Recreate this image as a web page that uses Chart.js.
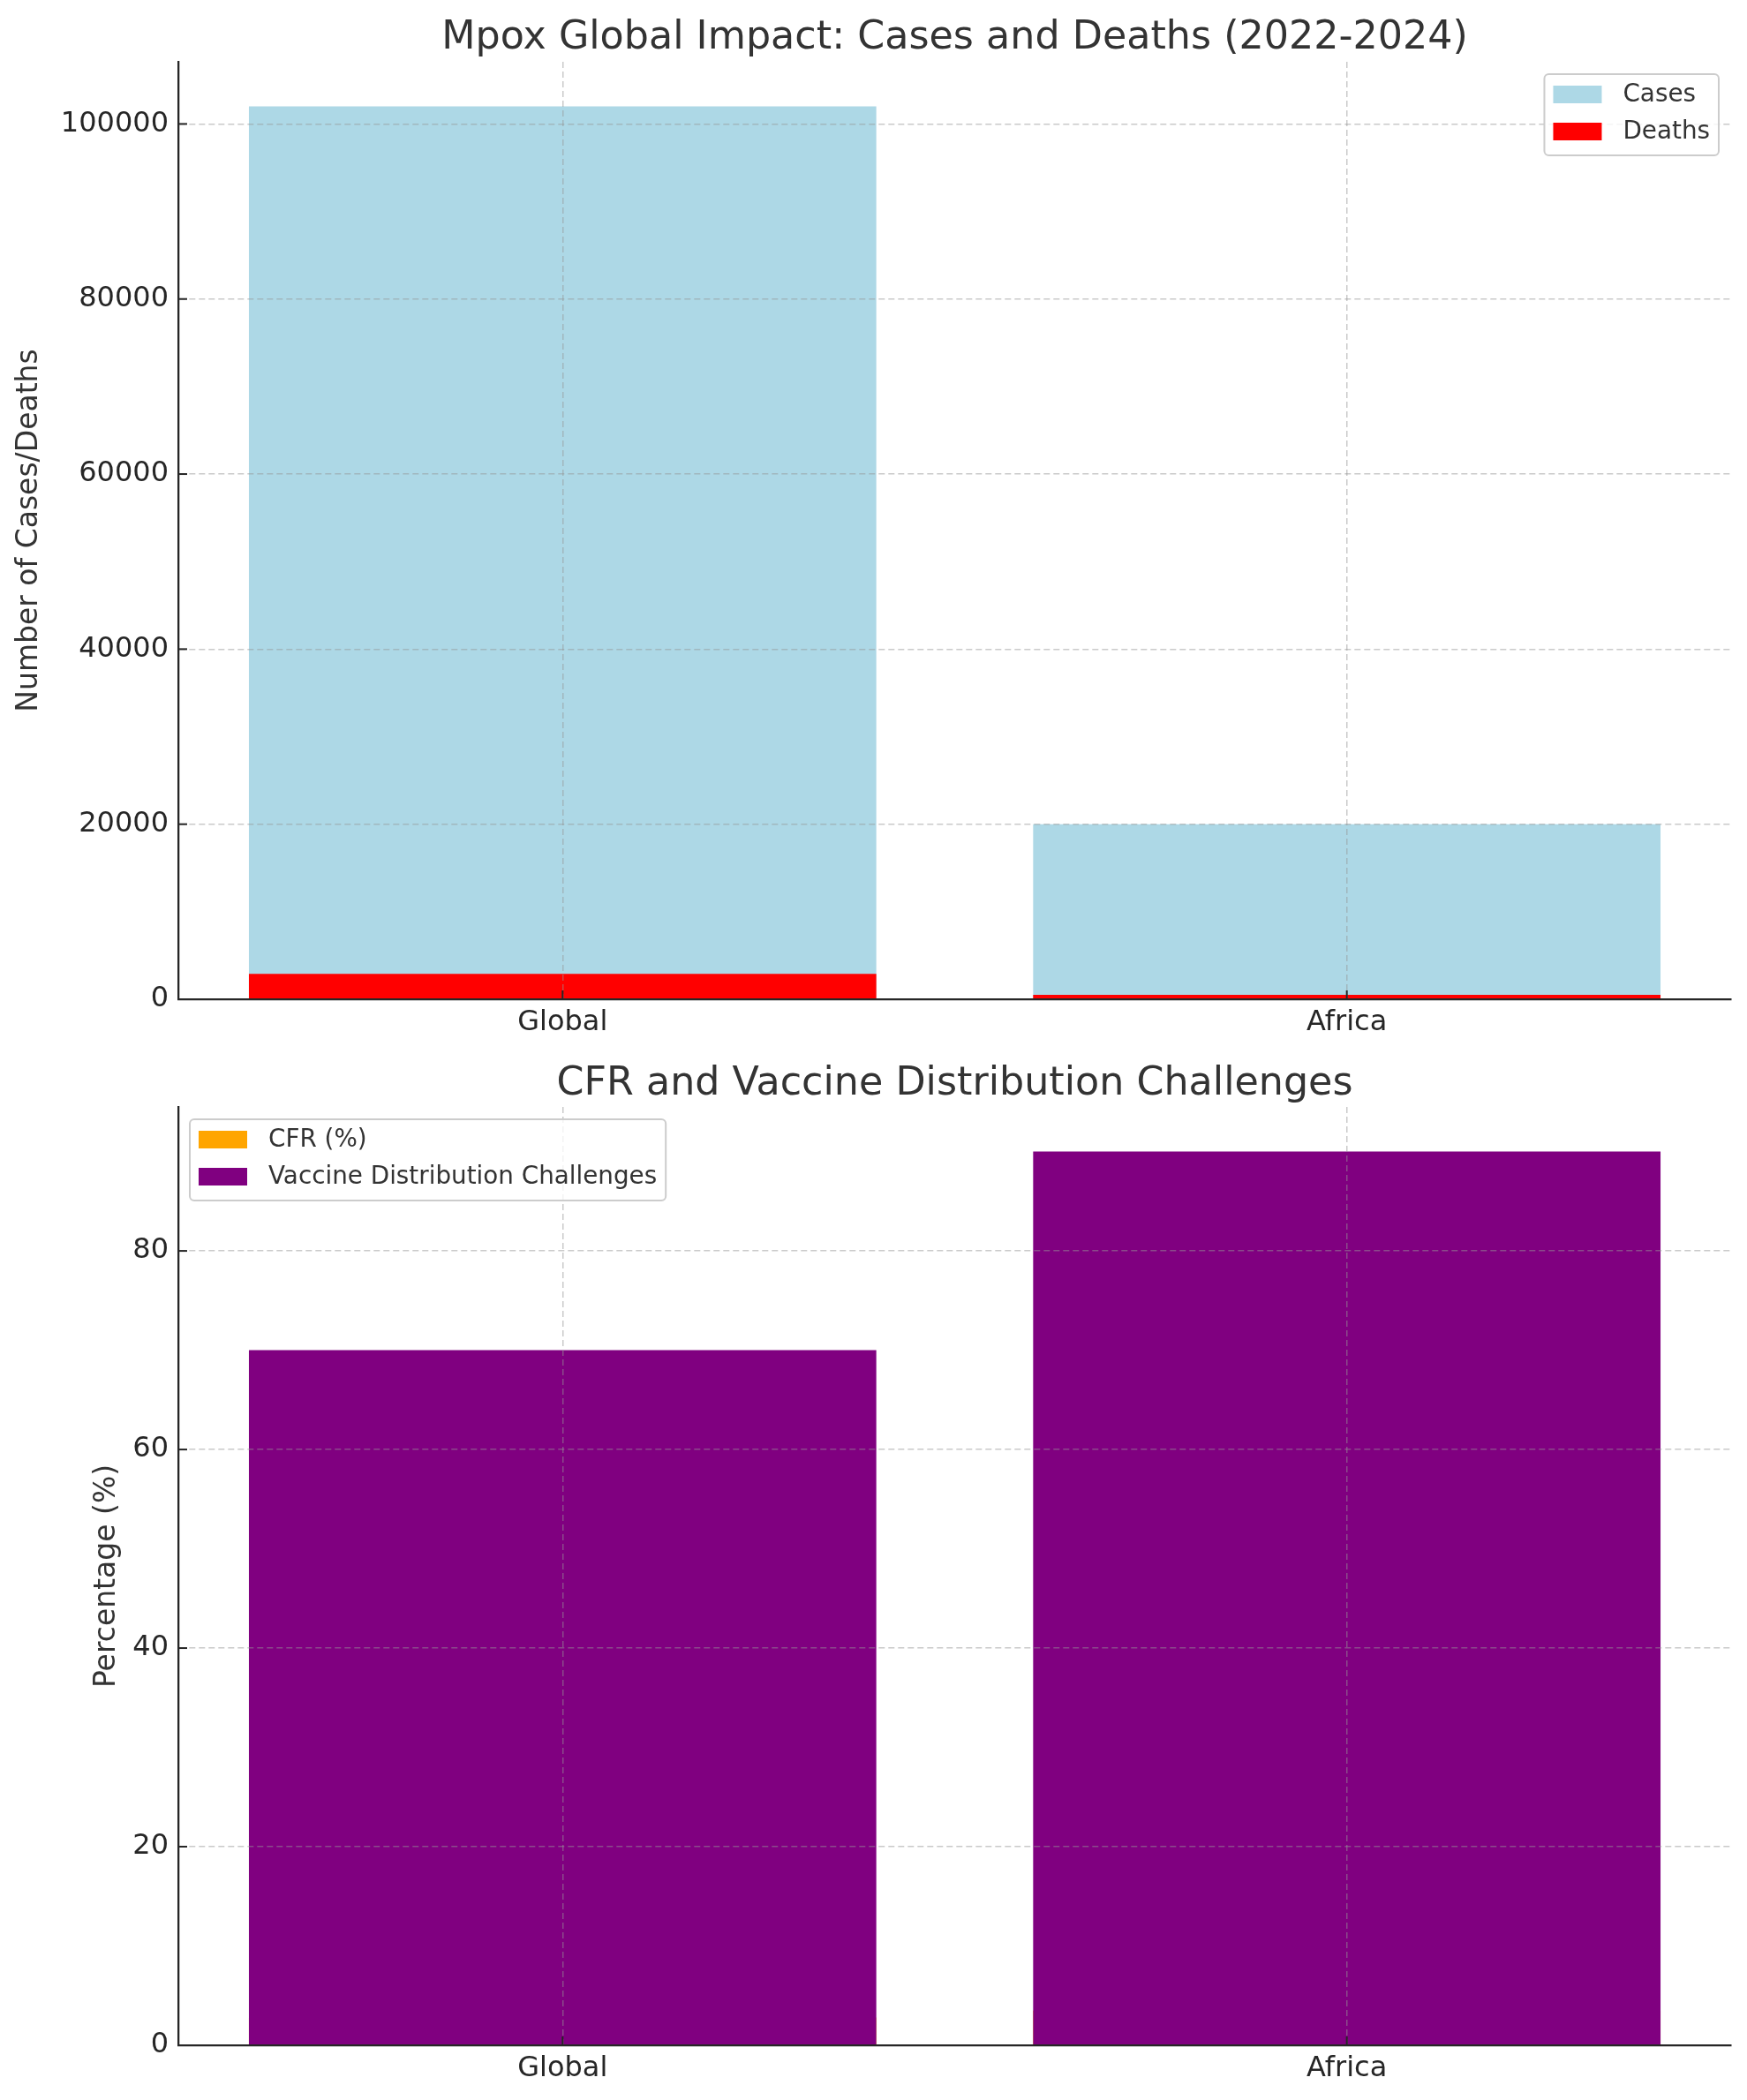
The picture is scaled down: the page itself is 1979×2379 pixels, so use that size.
<!DOCTYPE html>
<html><head><meta charset="utf-8">
<script src="https://cdn.jsdelivr.net/npm/chart.js@4.4.1/dist/chart.umd.min.js"></script>
<style>
html,body{margin:0;padding:0;background:#fff;width:1979px;height:2379px;overflow:hidden;}
canvas{display:block;position:absolute;left:0;}
</style>
</head><body>
<canvas id="c1" width="1979" height="1190" style="top:0;width:1979px;height:1190px"></canvas>
<canvas id="c2" width="1979" height="1189" style="top:1190px;width:1979px;height:1189px"></canvas>
<script>
// ---- data ----
const regions = ['Global', 'Africa'];
const caseValues = [102000, 20000];
const deathValues = [2900, 500];
const cfrValues = [2.8, 3.5];
const vaccineChallengeValues = [70, 90];
const casesTicks = [0, 20000, 40000, 60000, 80000, 100000];
const percentTicks = [0, 20, 40, 60, 80];

const FAMILY = '"DejaVu Sans", sans-serif';
Chart.defaults.font.family = FAMILY;

// title centred over the plot area (as in the reference)
const axTitle = {
  id: 'axTitle',
  afterDraw(chart, args, opts) {
    const ctx = chart.ctx, a = chart.chartArea;
    ctx.save();
    ctx.font = '44.4px ' + FAMILY;
    ctx.fillStyle = '#333333';
    ctx.textAlign = 'center';
    ctx.textBaseline = 'middle';
    ctx.fillText(opts.text, (a.left + a.right) / 2, opts.y);
    ctx.restore();
  }
};

const boxLegend = {
  id: 'boxLegend',
  afterDraw(chart, args, opts) {
    const ctx = chart.ctx, a = chart.chartArea;
    ctx.save();
    ctx.font = '27.8px ' + FAMILY;
    const items = chart.data.datasets.map(d => ({label: d.label, color: d.backgroundColor}));
    const tw = Math.max(...items.map(i => ctx.measureText(i.label).width));
    const padX = 10, sw = 55, sh = 20, gap = 24, row = 42, padR = 10;
    const w = padX + sw + gap + tw + padR;
    const h = 23 + row + 27;
    const x = opts.side === 'right' ? a.right - 14 - w : a.left + 13;
    const y = a.top + 14;
    ctx.beginPath();
    ctx.roundRect(x, y, w, h, 5);
    ctx.fillStyle = 'rgba(255,255,255,0.8)';
    ctx.fill();
    ctx.lineWidth = 2;
    ctx.strokeStyle = '#cccccc';
    ctx.stroke();
    items.forEach((it, i) => {
      const cy = y + 23 + i * row;
      ctx.fillStyle = it.color;
      ctx.fillRect(x + padX, cy - sh / 2, sw, sh);
      ctx.fillStyle = '#333333';
      ctx.textBaseline = 'middle';
      ctx.textAlign = 'left';
      ctx.fillText(it.label, x + padX + sw + gap, cy + 1);
    });
    ctx.restore();
  }
};

const inTicks = {
  id: 'inTicks',
  afterDraw(chart) {
    const ctx = chart.ctx, xs = chart.scales.x, ys = chart.scales.y, a = chart.chartArea;
    ctx.save();
    ctx.strokeStyle = '#262626';
    ctx.lineWidth = 2;
    ys.ticks.forEach((t, i) => {
      const p = ys.getPixelForTick(i);
      ctx.beginPath(); ctx.moveTo(a.left, p); ctx.lineTo(a.left + 10, p); ctx.stroke();
    });
    xs.ticks.forEach((t, i) => {
      const p = xs.getPixelForTick(i);
      ctx.beginPath(); ctx.moveTo(p, a.bottom); ctx.lineTo(p, a.bottom - 10); ctx.stroke();
    });
    ctx.restore();
  }
};

function gridColor(c) {
  return (c.tick && c.tick.value === 0) ? 'rgba(0,0,0,0)' : 'rgba(150,150,150,0.5)';
}

function makeChart(id, o) {
  return new Chart(document.getElementById(id), {
    type: 'bar',
    data: {
      labels: regions,
      datasets: o.datasets.map(d => Object.assign({
        grouped: false, barPercentage: 0.8, categoryPercentage: 1, borderWidth: 0
      }, d, {data: d.values.map((v, i) => ({x: i, y: v}))}))
    },
    options: {
      responsive: false,
      devicePixelRatio: 1,
      animation: false,
      layout: {padding: {left: 0, right: 18, top: o.padTop, bottom: o.padBottom}},
      plugins: {
        legend: {display: false},
        tooltip: {enabled: false},
        title: {display: false},
        axTitle: {text: o.title, y: o.titleY},
        boxLegend: {side: o.legendSide}
      },
      scales: {
        x: {
          type: 'linear',
          offset: false,
          min: -0.49, max: 1.49,
          afterBuildTicks: s => { s.ticks = regions.map((r, i) => ({value: i})); },
          ticks: {font: {size: 32}, color: '#262626', padding: 7, callback: v => regions[v]},
          grid: {offset: false, color: 'rgba(150,150,150,0.5)', lineWidth: 1.5, drawTicks: false, z: 1},
          border: {display: true, color: '#262626', width: 2.3, dash: [7, 4], z: 2}
        },
        y: {
          min: 0, max: o.yMax,
          afterBuildTicks: s => { s.ticks = o.yTicks.map(v => ({value: v})); },
          afterFit: s => { s.width = 202; },
          ticks: {font: {size: 32}, color: '#262626', padding: 11, callback: v => String(v)},
          grid: {color: gridColor, lineWidth: 1.5, drawTicks: false, z: 1},
          border: {display: true, color: '#262626', width: 2.3, dash: [7, 4], z: 2},
          title: {display: true, text: o.yTitle, color: '#333333', font: {size: 33},
                  padding: {top: o.yTitlePad, bottom: 0}}
        }
      }
    },
    plugins: [inTicks, axTitle, boxLegend]
  });
}

makeChart('c1', {
  title: 'Mpox Global Impact: Cases and Deaths (2022-2024)',
  titleY: 43, padTop: 70, padBottom: 5.6,
  yMax: 107100, yTicks: casesTicks, yTitle: 'Number of Cases/Deaths', yTitlePad: 14,
  legendSide: 'right',
  datasets: [
    {label: 'Cases', values: caseValues, backgroundColor: '#add8e6', order: 1},
    {label: 'Deaths', values: deathValues, backgroundColor: '#ff0000', order: 0}
  ]
});

makeChart('c2', {
  title: 'CFR and Vaccine Distribution Challenges',
  titleY: 38, padTop: 64, padBottom: 9.6,
  yMax: 94.5, yTicks: percentTicks, yTitle: 'Percentage (%)', yTitlePad: 102,
  legendSide: 'left',
  datasets: [
    {label: 'CFR (%)', values: cfrValues, backgroundColor: '#ffa500', order: 1},
    {label: 'Vaccine Distribution Challenges', values: vaccineChallengeValues, backgroundColor: '#800080', order: 0}
  ]
});
</script>
</body></html>
